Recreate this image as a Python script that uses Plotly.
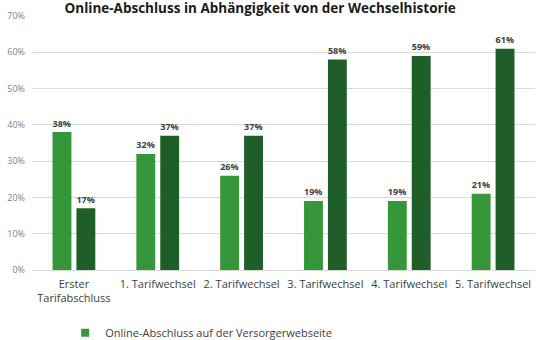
import plotly.graph_objects as go

categories = ["Erster<br>Tarifabschluss", "1. Tarifwechsel", "2. Tarifwechsel",
              "3. Tarifwechsel", "4. Tarifwechsel", "5. Tarifwechsel"]
versorger = [38, 32, 26, 19, 19, 21]
portal = [17, 37, 37, 58, 59, 61]
series_names = ["Online-Abschluss auf der Versorgerwebseite",
                "Online-Abschluss über Vergleichsportale"]
title_text = "Online-Abschluss in Abhängigkeit von der Wechselhistorie"

FONT = "Open Sans"
LIGHT = "#36963a"
DARK = "#1f5e29"
fig = go.Figure()
fig.add_trace(go.Bar(
    x=categories, y=versorger, name=series_names[0], showlegend=False,
    marker=dict(color=LIGHT, line=dict(width=0)),
    text=[f"{v}%" for v in versorger], textposition="outside",
    textfont=dict(family=FONT, size=10.5, color="#404040", weight="bold"),
    cliponaxis=False,
))
fig.add_trace(go.Bar(
    x=categories, y=portal, name=series_names[1], showlegend=False,
    marker=dict(color=DARK, line=dict(width=0)),
    text=[f"{v}%" for v in portal], textposition="outside",
    textfont=dict(family=FONT, size=10.5, color="#404040", weight="bold"),
    cliponaxis=False,
))
# legend entry (square swatch) for the first series
fig.add_trace(go.Scatter(
    x=[None], y=[None], mode="markers", name=series_names[0],
    marker=dict(symbol="square", size=8, color=LIGHT), showlegend=True,
))
fig.update_layout(
    width=542, height=340,
    margin=dict(l=32, r=7, t=16, b=70, autoexpand=False),
    paper_bgcolor="white", plot_bgcolor="white",
    font=dict(family=FONT, color="#404040"),
    barmode="group", bargap=0.43, bargroupgap=0.21,
    title=dict(text=f"<b>{title_text}</b>", x=0.48, xanchor="center",
               y=0.976, yanchor="middle", yref="container",
               font=dict(family=FONT, size=13.5, color="#1a1a1a")),
    yaxis=dict(range=[0, 70], dtick=10, ticksuffix="%",
               showgrid=True, gridcolor="#d9d9d9", gridwidth=1,
               zeroline=True, zerolinecolor="#d9d9d9", zerolinewidth=1,
               tickfont=dict(family=FONT, size=9, color="#7f7f7f"),
               ticks="", ticklabelstandoff=6, automargin=False),
    xaxis=dict(tickfont=dict(family=FONT, size=11, color="#404040"),
               showline=False, ticks="", ticklabelstandoff=6, automargin=False),
    legend=dict(orientation="h", x=0.066, xanchor="left", y=-0.19, yanchor="top",
                font=dict(family=FONT, size=11, color="#404040"),
                itemwidth=30),
    showlegend=True,
)
fig.write_html("out.html")
